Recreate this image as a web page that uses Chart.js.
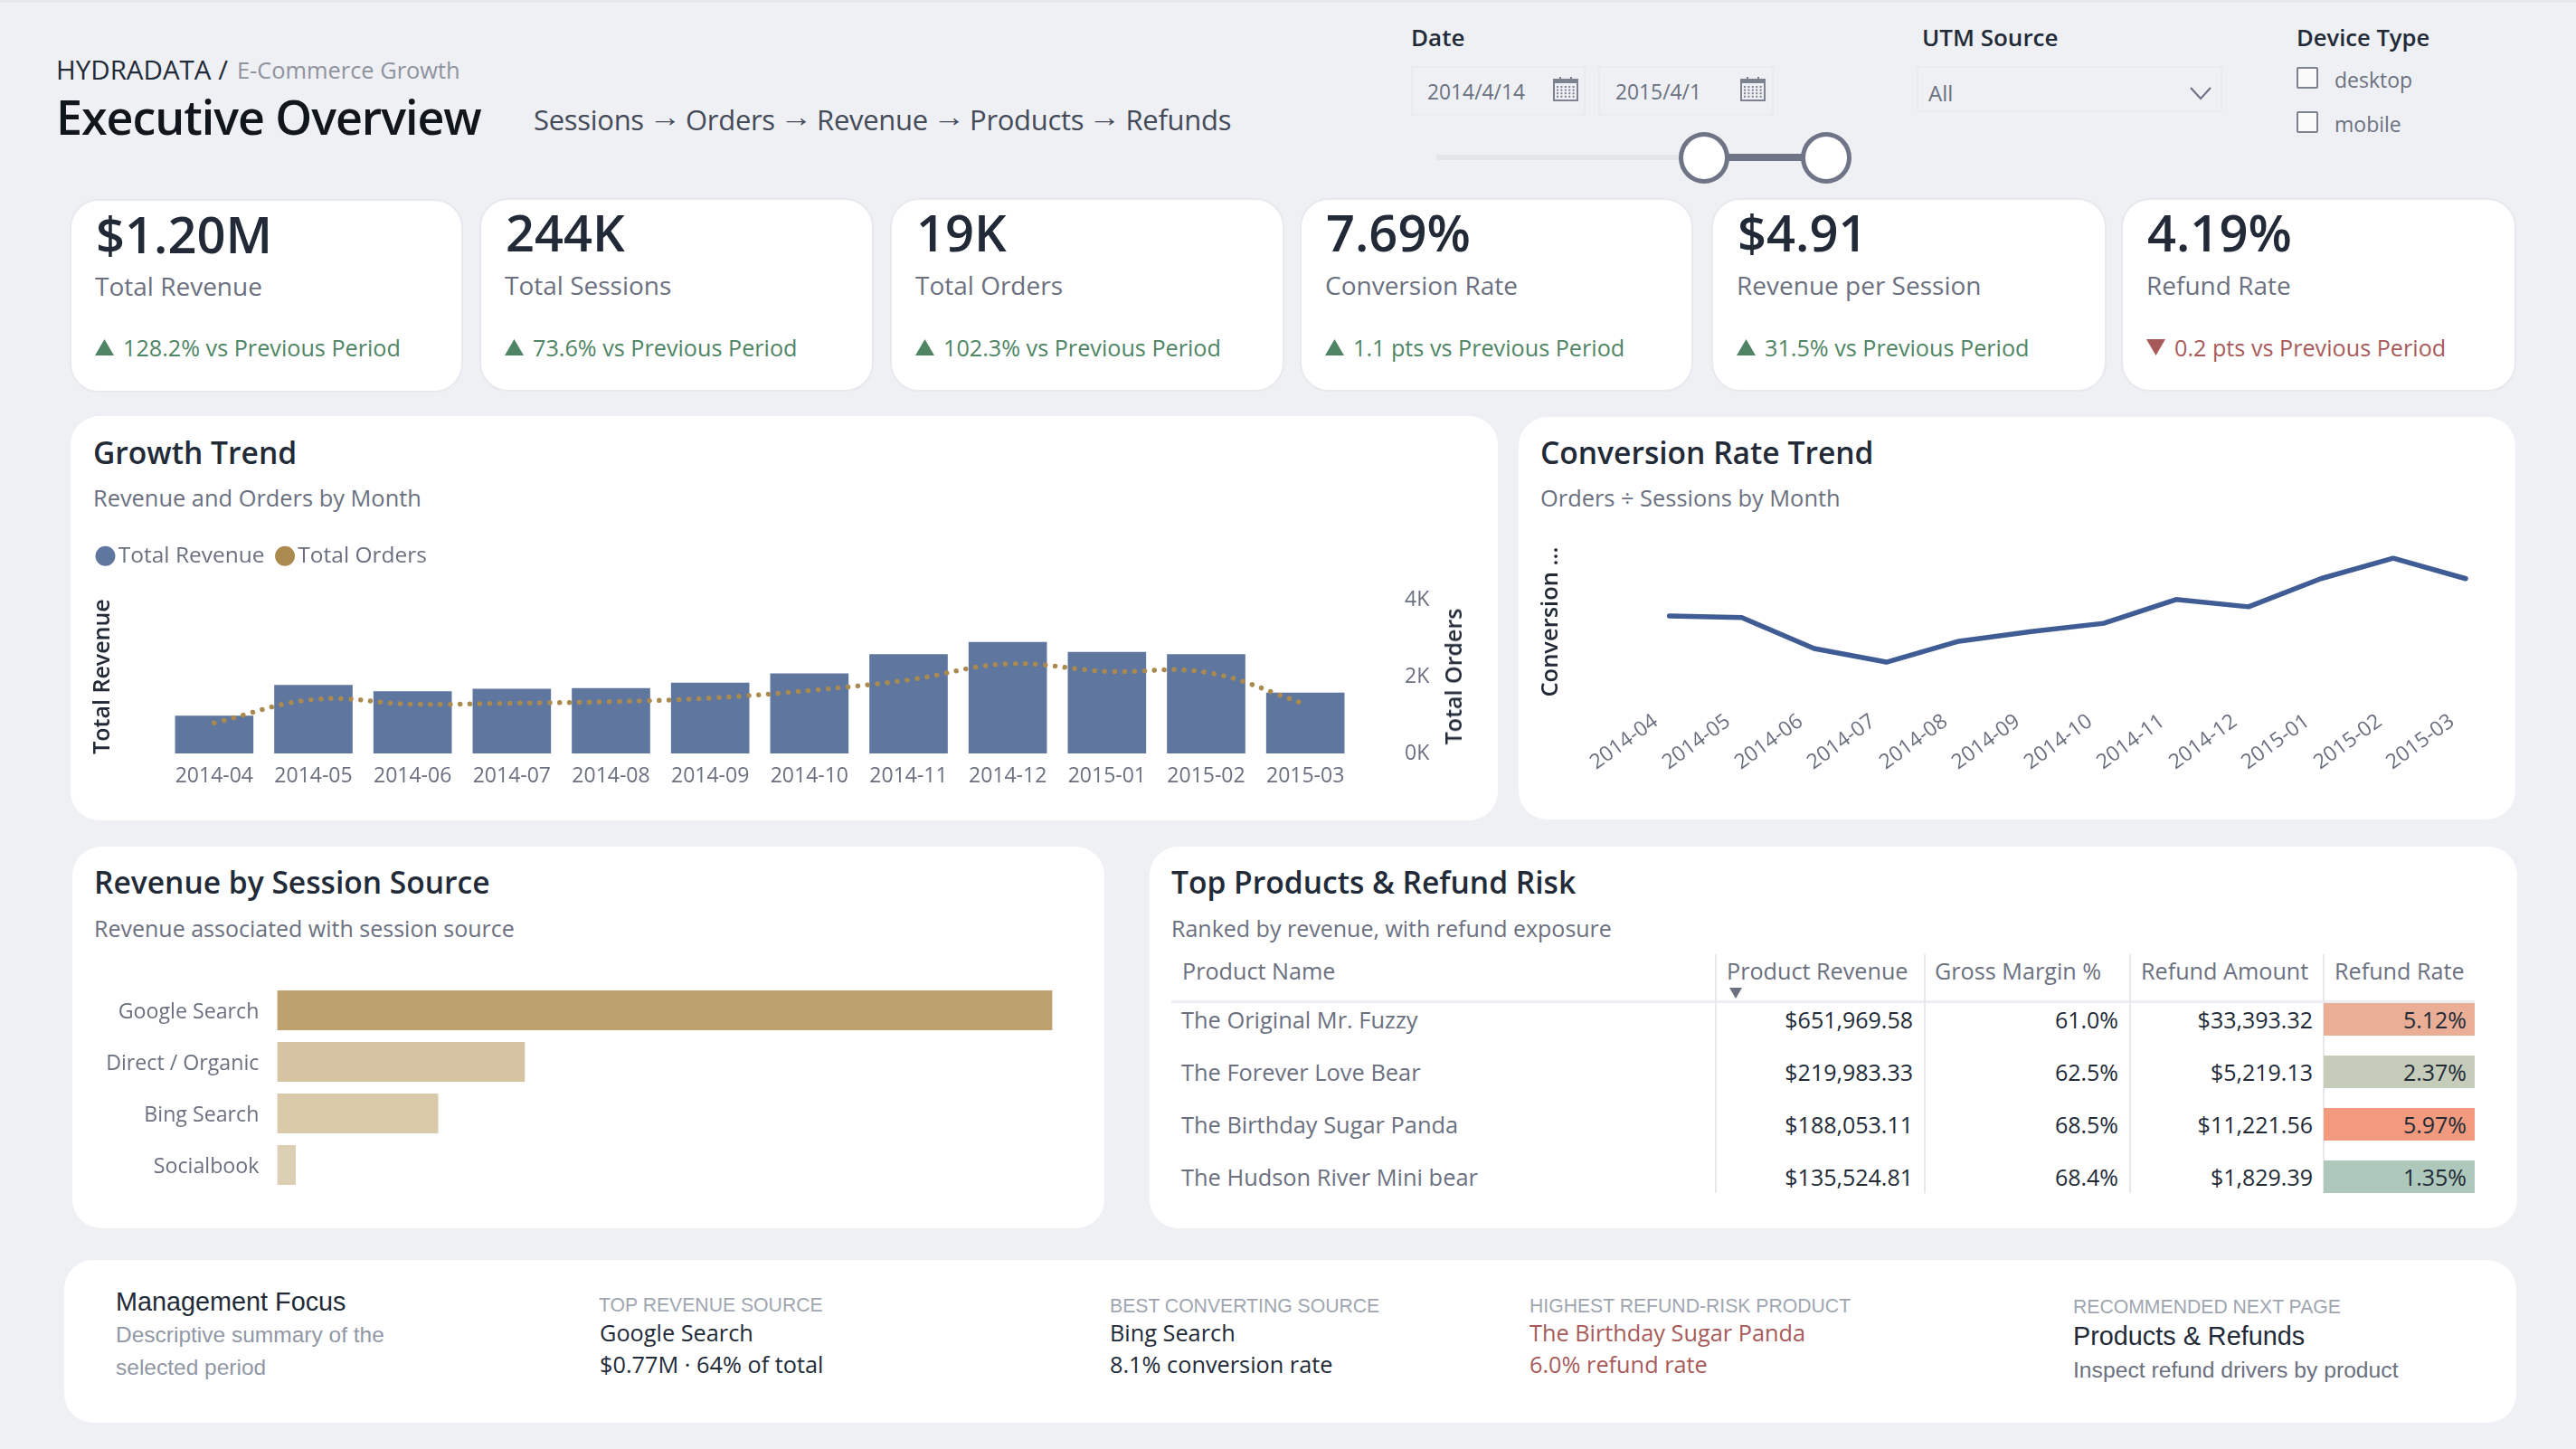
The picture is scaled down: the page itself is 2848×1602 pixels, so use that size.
<!DOCTYPE html>
<html>
<head>
<meta charset="utf-8">
<title>Executive Overview</title>
<script src="https://cdn.jsdelivr.net/npm/chart.js@4"></script>
<style>
  html, body { margin: 0; padding: 0; }
  body { width: 2848px; height: 1602px; position: relative; overflow: hidden; background: #eef0f4; font-family: "Open Sans", sans-serif; }
  .topline { position: absolute; left: 0; top: 0; width: 2848px; height: 3px; background: #e6e8ec; }
  .box { position: absolute; box-sizing: border-box; background: #fff; border-radius: 32px; }
  .kpi { border: 2px solid #e7e9ed; }
  .t { position: absolute; white-space: nowrap; transform: translateY(-50%); line-height: 1.2; }
  .r { transform: translate(-100%, -50%); }
  .arial { font-family: "Liberation Sans", sans-serif; }
  .dark { color: #222a38; }
  .muted { color: #6b7080; }
  .title { font-size: 33.6px; font-weight: 600; color: #222a38; }
  .sub { font-size: 25px; color: #6b7080; }
  .caps { font-family: "Liberation Sans", sans-serif; font-size: 21.2px; color: #a0a6b1; }
  .body { font-size: 25.3px; color: #222a38; }
  .red { color: #a85a5a; }
  .arrow { font-family: "Liberation Sans", sans-serif; position: relative; top: -4px; display: inline-block; transform: scaleX(1.15); }
  canvas { position: absolute; }
  .field { position: absolute; box-sizing: border-box; border: 2px solid #e9ebef; background: #eef0f4; }
  .check { position: absolute; box-sizing: border-box; width: 24px; height: 24px; border: 2px solid #7d8291; border-radius: 2px; background: #fafafa; }
  .vline { position: absolute; width: 2px; background: #e6e8ec; }
  svg { position: absolute; }
</style>
</head>
<body>
<div class="topline"></div>
<canvas id="growth" width="1578" height="325" style="left:78px;top:582px"></canvas>
<canvas id="conversion" width="1102" height="316" style="left:1679px;top:590px"></canvas>
<canvas id="sources" width="1141" height="270" style="left:80px;top:1070px"></canvas>
<script>
const months = ['2014-04', '2014-05', '2014-06', '2014-07', '2014-08', '2014-09', '2014-10', '2014-11', '2014-12', '2015-01', '2015-02', '2015-03'];
const revenueByMonth = [49000, 89000, 81000, 84000, 85000, 92000, 104000, 129000, 145000, 132000, 129000, 79000];
const ordersByMonth = [795, 1402, 1283, 1307, 1346, 1441, 1638, 1913, 2331, 2134, 2110, 1283];
const conversionByMonth = [7.62, 7.59, 6.95, 6.67, 7.10, 7.30, 7.47, 7.96, 7.81, 8.39, 8.81, 8.39];

const sourceNames = ['Google Search', 'Direct / Organic', 'Bing Search', 'Socialbook'];
const sourceRevenue = [770000, 246000, 160000, 18500];
const sourceColors = ['#bda26f', '#d5c3a1', '#d9caaa', '#dcd0b4'];

const funnelSteps = ['Sessions', 'Orders', 'Revenue', 'Products', 'Refunds'];

const kpiValues = ['$1.20M', '244K', '19K', '7.69%', '$4.91', '4.19%'];
const kpiLabels = ['Total Revenue', 'Total Sessions', 'Total Orders', 'Conversion Rate', 'Revenue per Session', 'Refund Rate'];
const kpiDeltas = ['128.2% vs Previous Period', '73.6% vs Previous Period', '102.3% vs Previous Period', '1.1 pts vs Previous Period', '31.5% vs Previous Period', '0.2 pts vs Previous Period'];
const kpiGood = [true, true, true, true, true, false];
const kpiLeft = [77, 530, 984, 1437, 1892, 2345];
const kpiRight = [512, 966, 1420, 1872, 2329, 2782];

const tableHeaders = ['Product Name', 'Product Revenue', 'Gross Margin %', 'Refund Amount', 'Refund Rate'];
const productNames = ['The Original Mr. Fuzzy', 'The Forever Love Bear', 'The Birthday Sugar Panda', 'The Hudson River Mini bear'];
const productRevenue = ['$651,969.58', '$219,983.33', '$188,053.11', '$135,524.81'];
const grossMargin = ['61.0%', '62.5%', '68.5%', '68.4%'];
const refundAmount = ['$33,393.32', '$5,219.13', '$11,221.56', '$1,829.39'];
const refundRate = ['5.12%', '2.37%', '5.97%', '1.35%'];
const refundColors = ['#eaae96', '#c5ccb9', '#f29a7e', '#aec9bb'];

const GREEN = '#4f8565';
const RED = '#a85a5a';
const TICK = '#6b7080';
const INK = '#222a38';

function el(cls, css, html) {
  const d = document.createElement('div');
  d.className = cls;
  d.style.cssText = css;
  if (html != null) d.innerHTML = html;
  document.body.insertBefore(d, document.querySelector('canvas'));
  return d;
}

function txt(x, y, text, cls, css) {
  return el('t ' + (cls || ''), `left:${x}px;top:${y}px;${css || ''}`, text);
}

function svg(x, y, w, h, inner) {
  el('', `position:absolute;left:${x}px;top:${y}px;width:${w}px;height:${h}px`,
    `<svg width="${w}" height="${h}" viewBox="0 0 ${w} ${h}">${inner}</svg>`);
}

function panel(x0, y0, x1, y1) {
  el('box', `left:${x0}px;top:${y0}px;width:${x1 - x0}px;height:${y1 - y0}px`);
}

function calendar(x, y) {
  let dots = '';
  for (let r = 0; r < 4; r++) {
    for (let c = 0; c < 5; c++) {
      dots += `<rect x="${4 + c * 4.4}" y="${10 + r * 3.6}" width="2" height="2" fill="#7d8291"/>`;
    }
  }
  svg(x, y, 28, 27, `<rect x="1" y="3" width="26" height="23" fill="none" stroke="#7d8291" stroke-width="2"/>
    <rect x="1" y="3" width="26" height="4" fill="#7d8291"/>
    <rect x="7" y="0" width="2" height="5" fill="#7d8291"/><rect x="19" y="0" width="2" height="5" fill="#7d8291"/>${dots}`);
}

function drawHeader() {
  txt(62, 77, 'HYDRADATA / ', 'dark', 'font-size:29.5px');
  txt(262, 77, 'E-Commerce Growth', '', 'font-size:25.4px;color:#8f939e');
  txt(62, 129, 'Executive Overview', '', 'font-size:52px;font-weight:600;letter-spacing:-1.05px;color:#11151c');
  txt(590, 133, funnelSteps.join(' <span class="arrow">→</span> '), '', 'font-size:31px;letter-spacing:-0.3px;color:#444a58');

  txt(1560, 42, 'Date', 'dark', 'font-size:26px;font-weight:600');
  txt(2125, 42, 'UTM Source', 'dark', 'font-size:26px;font-weight:600');
  txt(2539, 42, 'Device Type', 'dark', 'font-size:25.6px;font-weight:600');

  el('field', 'left:1560px;top:73px;width:193px;height:55px');
  el('field', 'left:1767px;top:73px;width:194px;height:55px');
  txt(1578, 102, '2014/4/14', 'muted', 'font-size:22.8px');
  txt(1786, 102, '2015/4/1', 'muted', 'font-size:22.8px');
  calendar(1717, 85);
  calendar(1924, 85);

  el('field', 'left:2119px;top:73px;width:338px;height:51px');
  txt(2132, 103, 'All', 'muted', 'font-size:24px');
  svg(2420, 94, 26, 18, '<path d="M2 3 L13 15 L24 3" fill="none" stroke="#6b7080" stroke-width="2"/>');

  el('check', 'left:2539px;top:74px');
  el('check', 'left:2539px;top:123px');
  txt(2581, 89, 'desktop', 'muted', 'font-size:23px');
  txt(2581, 138, 'mobile', 'muted', 'font-size:23px');

  // date slider
  el('', 'position:absolute;left:1588px;top:171px;width:300px;height:6px;background:#e3e5e9');
  el('', 'position:absolute;left:1884px;top:170px;width:134px;height:8px;background:#6f7486');
  el('', 'position:absolute;box-sizing:border-box;left:1856px;top:146px;width:56px;height:57px;border-radius:50%;background:#fff;border:5px solid #6f7486');
  el('', 'position:absolute;box-sizing:border-box;left:1991px;top:146px;width:56px;height:57px;border-radius:50%;background:#fff;border:5px solid #6f7486');
}

function drawKpis() {
  kpiValues.forEach((v, i) => {
    const x0 = kpiLeft[i];
    const dy = i === 0 ? 1 : 0;
    el('box kpi', `left:${x0}px;top:${219 + dy}px;width:${kpiRight[i] - x0}px;height:${214}px`);
    txt(x0 + 29, 257 + dy * 2, v, '', `font-size:56px;font-weight:600;color:${INK}`);
    txt(x0 + 28, 316 + dy, kpiLabels[i], 'muted', 'font-size:28px');
    const c = kpiGood[i] ? GREEN : RED;
    const tri = kpiGood[i] ? 'M0 18 L10.5 0 L21 18 Z' : 'M0 0 L21 0 L10.5 18 Z';
    svg(x0 + 28, 375, 21, 18, `<path d="${tri}" fill="${c}"/>`);
    txt(x0 + 59, 383.5, kpiDeltas[i], '', `font-size:25.2px;color:${c}`);
  });
}

function drawTable() {
  const textX = [1307, 1909, 2139, 2367, 2581];
  tableHeaders.forEach((h, i) => txt(textX[i], 1073, h, 'muted', 'font-size:25.2px'));
  svg(1912, 1092, 14, 12, '<path d="M0 0 L14 0 L7 12 Z" fill="#6b7080"/>');
  el('', 'position:absolute;left:1295px;top:1106px;width:1441px;height:3px;background:#eceef1');
  [1896, 2127, 2354, 2568].forEach(x => el('vline', `left:${x}px;top:1055px;height:264px`));

  const rowY = [1127, 1185, 1243, 1301];
  productNames.forEach((name, i) => {
    el('', `position:absolute;left:2569px;top:${rowY[i] - 18}px;width:167px;height:36px;background:${refundColors[i]}`);
    txt(1306, rowY[i], name, 'muted', 'font-size:25.4px');
    txt(2115, rowY[i], productRevenue[i], 'r dark', 'font-size:25px');
    txt(2342, rowY[i], grossMargin[i], 'r dark', 'font-size:25px');
    txt(2557, rowY[i], refundAmount[i], 'r dark', 'font-size:25px');
    txt(2727, rowY[i], refundRate[i], 'r dark', 'font-size:25px');
  });
}

function drawFooter() {
  txt(128, 1439, 'Management Focus', 'arial dark', 'font-size:28.8px');
  txt(128, 1476, 'Descriptive summary of the', 'arial', 'font-size:24.5px;color:#9097a5');
  txt(128, 1512, 'selected period', 'arial', 'font-size:24.5px;color:#9097a5');

  txt(662, 1443, 'TOP REVENUE SOURCE', 'caps');
  txt(663, 1473, 'Google Search', 'body');
  txt(663, 1508, '$0.77M · 64% of total', 'body');

  txt(1227, 1444, 'BEST CONVERTING SOURCE', 'caps');
  txt(1227, 1473, 'Bing Search', 'body');
  txt(1227, 1508, '8.1% conversion rate', 'body');

  txt(1691, 1444, 'HIGHEST REFUND-RISK PRODUCT', 'caps');
  txt(1691, 1473, 'The Birthday Sugar Panda', 'body red');
  txt(1691, 1508, '6.0% refund rate', 'body red');

  txt(2292, 1445, 'RECOMMENDED NEXT PAGE', 'caps');
  txt(2292, 1477, 'Products & Refunds', 'arial dark', 'font-size:28.8px');
  txt(2292, 1515, 'Inspect refund drivers by product', 'arial muted', 'font-size:24.7px');
}

function drawFrames() {
  panel(78, 460, 1656, 907);
  panel(1679, 461, 2781, 906);
  panel(80, 936, 1221, 1358);
  panel(1271, 936, 2783, 1358);
  panel(71, 1393, 2782, 1573);

  txt(103, 500, 'Growth Trend', 'title');
  txt(103, 549.5, 'Revenue and Orders by Month', 'sub', 'font-size:25.4px');
  txt(1703, 500, 'Conversion Rate Trend', 'title');
  txt(1703, 549.5, 'Orders ÷ Sessions by Month', 'sub', 'font-size:25.4px');
  txt(104, 975, 'Revenue by Session Source', 'title');
  txt(104, 1026, 'Revenue associated with session source', 'sub');
  txt(1295, 975, 'Top Products &amp; Refund Risk', 'title');
  txt(1295, 1026, 'Ranked by revenue, with refund exposure', 'sub');
}

drawFrames();
drawHeader();
drawKpis();
drawTable();
drawFooter();

Chart.defaults.font.family = '"Open Sans", sans-serif';
Chart.defaults.animation = false;

// the legend sits in a taller strip than its own content
const legendStrip = {
  id: 'legendStrip',
  beforeLayout(chart, args, opts) {
    const lg = chart.legend;
    if (!lg || lg._stripped) return;
    const fit = lg.fit;
    lg.fit = function () {
      fit.call(this);
      this.height = opts.height;
    };
    lg._stripped = true;
  },
};

new Chart(document.getElementById('growth'), {
  type: 'bar',
  plugins: [legendStrip],
  data: {
    labels: months,
    datasets: [
      {
        label: 'Total Revenue',
        data: revenueByMonth,
        yAxisID: 'y',
        order: 2,
        backgroundColor: '#5f769f',
        categoryPercentage: 0.79,
        barPercentage: 1,
      },
      {
        label: 'Total Orders',
        type: 'line',
        data: ordersByMonth,
        yAxisID: 'y1',
        order: 1,
        backgroundColor: '#ab8a4f',
        borderColor: '#ab8a4f',
        borderWidth: 5.5,
        borderDash: [0.01, 11],
        borderCapStyle: 'round',
        pointRadius: 0,
        tension: 0.4,
      },
    ],
  },
  options: {
    responsive: false,
    layout: { padding: { left: 16 } },
    plugins: {
      tooltip: { enabled: false },
      legendStrip: { height: 81 },
      legend: {
        position: 'top',
        align: 'start',
        labels: {
          usePointStyle: true,
          boxWidth: 4,
          boxHeight: 15.5,
          padding: 20.5,
          color: TICK,
          font: { size: 24.5 },
          sort: (a, b) => a.datasetIndex - b.datasetIndex,
          generateLabels(chart) {
            return Chart.defaults.plugins.legend.labels.generateLabels(chart).map(l => ({ ...l, lineWidth: 0, lineDash: [] }));
          },
        },
      },
    },
    scales: {
      x: {
        grid: { display: false },
        border: { display: false },
        ticks: { color: TICK, font: { size: 23 }, maxRotation: 0, autoSkip: false, padding: 4 },
        afterFit(s) { s.height = 74; },
      },
      y: {
        position: 'left',
        min: 0,
        max: 200000,
        grid: { display: false },
        border: { display: false },
        ticks: { display: false },
        title: { display: true, text: 'Total Revenue', color: INK, font: { size: 25, weight: '600' }, padding: { top: 5, bottom: 0 } },
        afterFit(s) { s.width = 88; },
      },
      y1: {
        position: 'right',
        min: 0,
        max: 4000,
        grid: { display: false, drawTicks: false },
        border: { display: false },
        ticks: { color: TICK, font: { size: 23 }, stepSize: 2000, padding: 55, callback: v => `${v / 1000}K` },
        afterFit(s) { s.width = 158; s.paddingTop = 0; s.paddingBottom = 0; },
      },
    },
  },
});
txt(1606, 748, 'Total Orders', '', `font-size:25px;font-weight:600;color:${INK};transform:translate(-50%,-50%) rotate(-90deg);z-index:2`);

new Chart(document.getElementById('conversion'), {
  type: 'line',
  data: {
    labels: months,
    datasets: [{
      label: 'Conversion Rate',
      data: conversionByMonth,
      borderColor: '#3f5d94',
      borderWidth: 5.5,
      borderJoinStyle: 'round',
      borderCapStyle: 'round',
      pointRadius: 0,
      tension: 0,
    }],
  },
  options: {
    responsive: false,
    layout: { padding: { left: 15, right: 15, top: 17 } },
    plugins: { legend: { display: false }, tooltip: { enabled: false } },
    scales: {
      x: {
        offset: true,
        grid: { display: false },
        border: { display: false },
        ticks: { color: TICK, font: { size: 23 }, minRotation: 36, maxRotation: 36, autoSkip: false, padding: 8, labelOffset: -15 },
        afterFit(s) { s.height = 138; },
      },
      y: {
        min: 6,
        max: 9,
        grid: { display: false },
        border: { display: false },
        ticks: { display: false },
        title: { display: true, text: 'Conversion ...', color: INK, font: { size: 25.5, weight: '600' }, padding: { top: 5, bottom: 0 } },
        afterFit(s) { s.width = 111.6; },
      },
    },
  },
});

new Chart(document.getElementById('sources'), {
  type: 'bar',
  data: {
    labels: sourceNames,
    datasets: [{
      label: 'Revenue',
      data: sourceRevenue,
      backgroundColor: sourceColors,
      categoryPercentage: 0.77,
      barPercentage: 1,
    }],
  },
  options: {
    indexAxis: 'y',
    responsive: false,
    layout: { padding: { right: 57.4, top: 18.5, bottom: 23.5 } },
    plugins: { legend: { display: false }, tooltip: { enabled: false } },
    scales: {
      x: { display: false, min: 0, max: 770000 },
      y: {
        grid: { display: false, drawTicks: false },
        border: { display: false },
        ticks: { color: TICK, font: { size: 23.2 }, autoSkip: false, padding: 20, labelOffset: 2 },
        afterFit(s) { s.width = 226.4; s.paddingTop = 0; s.paddingBottom = 0; },
      },
    },
  },
});
</script>
</body>
</html>
